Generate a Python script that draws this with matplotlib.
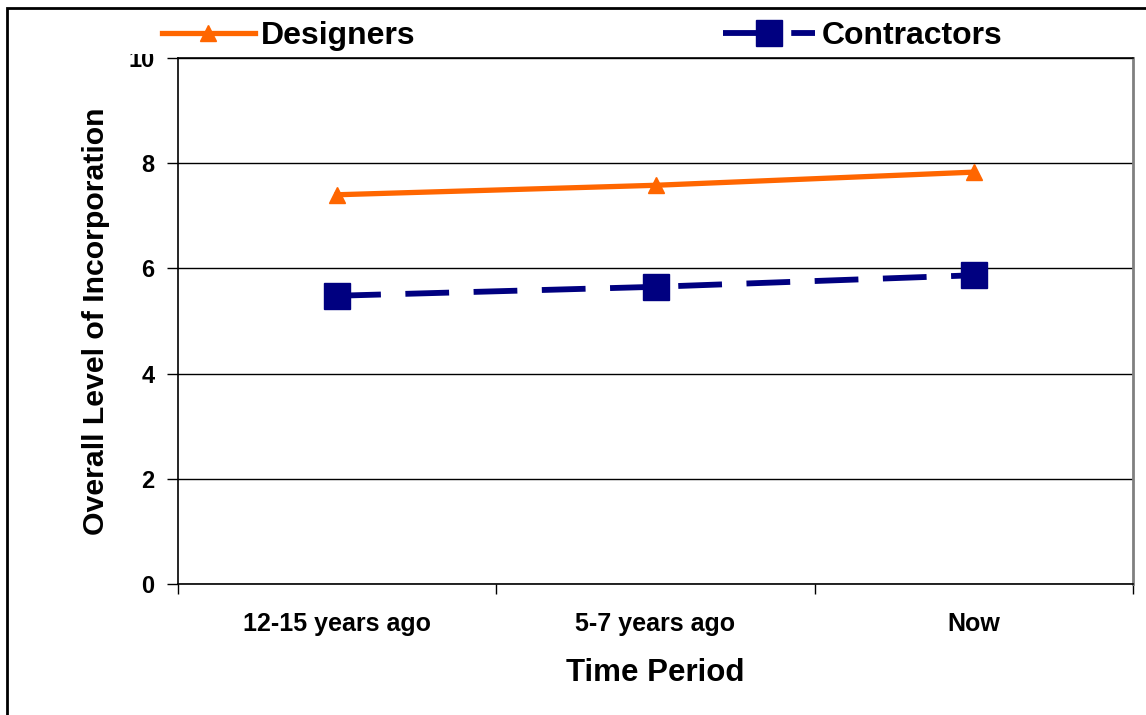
import numpy as np
import matplotlib.pyplot as plt
from matplotlib.patches import Rectangle

plt.rcParams["font.family"] = ["Liberation Sans", "DejaVu Sans"]
plt.rcParams["font.weight"] = "bold"

periods = ["12-15 years ago", "5-7 years ago", "Now"]
designers = [7.4, 7.58, 7.83]
contractors = [5.48, 5.65, 5.87]
y_ticks = [0, 2, 4, 6, 8, 10]

W, H = 1146, 715
fig = plt.figure(figsize=(W / 100, H / 100), dpi=100)
ax = fig.add_axes([0.1553, 0.1832, 0.8334, 0.7357])

x = np.arange(len(periods))

ax.plot(x, designers, color="#FF6600", lw=3.8, marker="^", markersize=11,
        markeredgecolor="#FF6600", label="Designers", zorder=5)
ax.plot(x, contractors, color="#000080", lw=4.2, marker="s", markersize=19,
        markeredgecolor="#000080", dashes=(7.5, 4.2), label="Contractors", zorder=5)

ax.set_xlim(-0.5, 2.5)
ax.set_ylim(0, 10)
ax.set_yticks(y_ticks)
ax.set_yticklabels([str(v) for v in y_ticks], fontsize=17, fontweight="bold")
ax.set_xticks(x)
ax.set_xticklabels(periods, fontsize=18, fontweight="bold")
ax.set_xticks([-0.5, 0.5, 1.5, 2.5], minor=True)
ax.tick_params(axis="x", which="major", length=0, pad=20)
ax.tick_params(axis="x", which="minor", length=7, width=1, color="black")
ax.tick_params(axis="y", length=8, width=1, pad=9)

ax.grid(axis="y", color="black", lw=1, zorder=0)
ax.set_axisbelow(True)
for side in ["left", "bottom", "top"]:
    ax.spines[side].set_color("black")
    ax.spines[side].set_linewidth(1.2)
ax.spines["right"].set_color("#808080")
ax.spines["right"].set_linewidth(2)

ax.set_xlabel("Time Period", fontsize=22.5, fontweight="bold", labelpad=16)
ax.set_ylabel("Overall Level of Incorporation", fontsize=21.8, fontweight="bold", labelpad=13)

# white strip under the legend hides the top of the "10" label, as in the original
cover = Rectangle((110 / W, 1 - 54 / H), 1000 / W, 45 / H, transform=fig.transFigure,
                  facecolor="white", edgecolor="none", zorder=3)
fig.patches.append(cover)

leg = fig.legend(loc="center left", bbox_to_anchor=(0.1387, 1 - 36 / H), ncol=2,
                 fontsize=23, frameon=False, handlelength=2.9, handletextpad=0.19,
                 columnspacing=9.62, borderpad=0.1, borderaxespad=0)
leg.set_zorder(5)
for t in leg.get_texts():
    t.set_fontweight("bold")

frame = Rectangle((7 / W, -0.05), 1.1, 1.05 - 8 / H, transform=fig.transFigure,
                  fill=False, edgecolor="black", lw=2, clip_on=False, zorder=10)
fig.patches.append(frame)

fig.savefig("out.png", dpi=100)
